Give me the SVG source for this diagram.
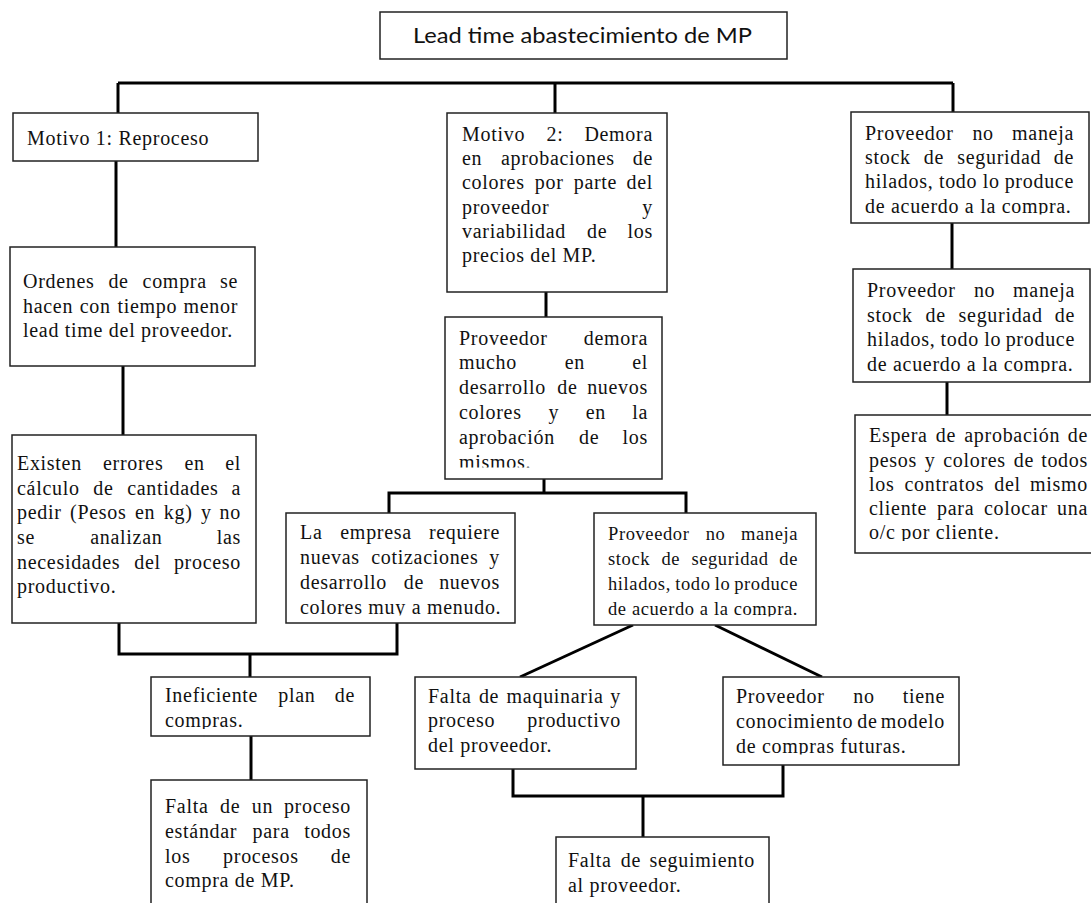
<svg xmlns="http://www.w3.org/2000/svg" width="1091" height="903" viewBox="0 0 1091 903">
  <style>
    .box { fill: #ffffff; stroke: #222222; stroke-width: 1.5; }
    .t { font-family: "Liberation Serif", "Times New Roman", serif; font-size: 20px; letter-spacing: 0.7px; fill: #111111; }
    .s { font-size: 18.5px; letter-spacing: 0.6px; }
    .e { text-anchor: end; }
    .title { font-family: Lato, "Liberation Sans", Arial, sans-serif; font-size: 21px; fill: #111111; }
    .conn { stroke: #000000; stroke-width: 3; fill: none; }
  </style>
  <defs>
    <!-- text areas whose last line overflows the box and is cut off -->
    <clipPath id="clipDemora"><rect x="445" y="317" width="217" height="150.5"/></clipPath>
    <clipPath id="clipEmpresa"><rect x="286" y="513" width="229" height="102.5"/></clipPath>
    <clipPath id="clipStockMid"><rect x="594" y="513" width="222" height="103.5"/></clipPath>
    <clipPath id="clipTiene"><rect x="723" y="677" width="236" height="77.5"/></clipPath>
    <clipPath id="clipRight1"><rect x="851" y="112" width="238" height="102.5"/></clipPath>
    <clipPath id="clipRight2"><rect x="853" y="269" width="237" height="103.5"/></clipPath>
    <clipPath id="clipEspera"><rect x="855" y="415" width="240" height="126"/></clipPath>
    <clipPath id="clipIneficiente"><rect x="151" y="677" width="219" height="52"/></clipPath>
  </defs>

  <rect x="0" y="0" width="1091" height="903" fill="#ffffff"/>

  <!-- connectors -->
  <g id="connectors" class="conn">
    <path d="M118,83 H953"/>
    <path d="M118,83 V113"/>
    <path d="M555,83 V113"/>
    <path d="M953,83 V112"/>
    <path d="M116,161 V247"/>
    <path d="M123,366 V435"/>
    <path d="M119,623 V654 H397 V623"/>
    <path d="M250,654 V677"/>
    <path d="M251,736 V780"/>
    <path d="M546,292 V317"/>
    <path d="M544,479 V493"/>
    <path d="M389,513 V493 H686 V513"/>
    <path d="M633,625 L520,677"/>
    <path d="M715,625 L822,677"/>
    <path d="M513,769 V796 H783 V765"/>
    <path d="M643,796 V837"/>
    <path d="M952,223 V269"/>
    <path d="M947,382 V415"/>
  </g>

  <!-- root -->
  <g id="lead-time">
    <rect class="box" x="380" y="12" width="407" height="47"/>
    <text class="title" x="413" y="43" textLength="339" lengthAdjust="spacingAndGlyphs">Lead time abastecimiento de MP</text>
  </g>

  <!-- branch 1 -->
  <g id="motivo-1">
    <rect class="box" x="13" y="113" width="245" height="48"/>
    <text class="t" x="27" y="145">Motivo 1: Reproceso</text>
  </g>

  <g id="ordenes-compra">
    <rect class="box" x="10" y="247" width="245" height="119"/>
    <text class="t" y="288"><tspan x="23">Ordenes</tspan><tspan x="108.4">de</tspan><tspan x="142.6">compra</tspan><tspan x="238" class="e">se</tspan></text>
    <text class="t" y="313"><tspan x="23">hacen</tspan><tspan x="79.8">con</tspan><tspan x="117.5">tiempo</tspan><tspan x="238" class="e">menor</tspan></text>
    <text class="t" x="23" y="337">lead time del proveedor.</text>
  </g>

  <g id="errores-calculo">
    <rect class="box" x="12" y="435" width="244" height="188"/>
    <text class="t" y="470"><tspan x="17">Existen</tspan><tspan x="103">errores</tspan><tspan x="184.5">en</tspan><tspan x="241" class="e">el</tspan></text>
    <text class="t" y="495"><tspan x="17">cálculo</tspan><tspan x="93.3">de</tspan><tspan x="127.2">cantidades</tspan><tspan x="241" class="e">a</tspan></text>
    <text class="t" y="519"><tspan x="17">pedir</tspan><tspan x="70.1">(Pesos</tspan><tspan x="135">en</tspan><tspan x="163.8">kg)</tspan><tspan x="201.1">y</tspan><tspan x="241" class="e">no</tspan></text>
    <text class="t" y="544"><tspan x="17">se</tspan><tspan x="90.2">analizan</tspan><tspan x="241" class="e">las</tspan></text>
    <text class="t" y="569"><tspan x="17">necesidades</tspan><tspan x="134.2">del</tspan><tspan x="241" class="e">proceso</tspan></text>
    <text class="t" x="17" y="593">productivo.</text>
  </g>

  <g id="plan-compras">
    <rect class="box" x="151" y="677" width="219" height="59"/>
    <g clip-path="url(#clipIneficiente)">
      <text class="t" y="702"><tspan x="165">Ineficiente</tspan><tspan x="278.2">plan</tspan><tspan x="355" class="e">de</tspan></text>
      <text class="t" x="165" y="727">compras.</text>
    </g>
  </g>

  <g id="proceso-estandar">
    <rect class="box" x="151" y="780" width="216" height="130"/>
    <text class="t" y="813"><tspan x="165">Falta</tspan><tspan x="220">de</tspan><tspan x="251.8">un</tspan><tspan x="351" class="e">proceso</tspan></text>
    <text class="t" y="838"><tspan x="165">estándar</tspan><tspan x="252.5">para</tspan><tspan x="351" class="e">todos</tspan></text>
    <text class="t" y="863"><tspan x="165">los</tspan><tspan x="223.1">procesos</tspan><tspan x="351" class="e">de</tspan></text>
    <text class="t" x="165" y="887">compra de MP.</text>
  </g>

  <!-- branch 2 -->
  <g id="motivo-2">
    <rect class="box" x="447" y="113" width="220" height="179"/>
    <text class="t" y="141"><tspan x="462">Motivo</tspan><tspan x="546.6">2:</tspan><tspan x="653" class="e">Demora</tspan></text>
    <text class="t" y="165"><tspan x="462">en</tspan><tspan x="500.9">aprobaciones</tspan><tspan x="653" class="e">de</tspan></text>
    <text class="t" y="189"><tspan x="462">colores</tspan><tspan x="534.8">por</tspan><tspan x="573.7">parte</tspan><tspan x="653" class="e">del</tspan></text>
    <text class="t" y="214"><tspan x="462">proveedor</tspan><tspan x="653" class="e">y</tspan></text>
    <text class="t" y="238"><tspan x="462">variabilidad</tspan><tspan x="587">de</tspan><tspan x="653" class="e">los</tspan></text>
    <text class="t" x="462" y="262">precios del MP.</text>
  </g>

  <g id="demora-colores">
    <rect class="box" x="445" y="317" width="217" height="162"/>
    <g clip-path="url(#clipDemora)">
      <text class="t" y="345"><tspan x="459">Proveedor</tspan><tspan x="648" class="e">demora</tspan></text>
      <text class="t" y="369"><tspan x="459">mucho</tspan><tspan x="564.8">en</tspan><tspan x="648" class="e">el</tspan></text>
      <text class="t" y="394"><tspan x="459">desarrollo</tspan><tspan x="557.2">de</tspan><tspan x="648" class="e">nuevos</tspan></text>
      <text class="t" y="419"><tspan x="459">colores</tspan><tspan x="548.4">y</tspan><tspan x="585.8">en</tspan><tspan x="648" class="e">la</tspan></text>
      <text class="t" y="444"><tspan x="459">aprobación</tspan><tspan x="579">de</tspan><tspan x="648" class="e">los</tspan></text>
      <text class="t" x="459" y="469">mismos.</text>
    </g>
  </g>

  <g id="nuevas-cotizaciones">
    <rect class="box" x="286" y="513" width="229" height="110"/>
    <g clip-path="url(#clipEmpresa)">
      <text class="t" y="539"><tspan x="300">La</tspan><tspan x="340.3">empresa</tspan><tspan x="500" class="e">requiere</tspan></text>
      <text class="t" y="564"><tspan x="300">nuevas</tspan><tspan x="371.2">cotizaciones</tspan><tspan x="500" class="e">y</tspan></text>
      <text class="t" y="589"><tspan x="300">desarrollo</tspan><tspan x="403.7">de</tspan><tspan x="500" class="e">nuevos</tspan></text>
      <text class="t" x="300" y="614">colores muy a menudo.</text>
    </g>
  </g>

  <g id="sin-stock-2">
    <rect class="box" x="594" y="513" width="222" height="112"/>
    <g clip-path="url(#clipStockMid)">
      <text class="t s" y="540"><tspan x="608">Proveedor</tspan><tspan x="705.7">no</tspan><tspan x="798" class="e">maneja</tspan></text>
      <text class="t s" y="565"><tspan x="608">stock</tspan><tspan x="661.4">de</tspan><tspan x="691.4">seguridad</tspan><tspan x="798" class="e">de</tspan></text>
      <text class="t s" y="590"><tspan x="608">hilados,</tspan><tspan x="675.2">todo</tspan><tspan x="714.8">lo</tspan><tspan x="798" class="e">produce</tspan></text>
      <text class="t s" x="608" y="615">de acuerdo a la compra.</text>
    </g>
  </g>

  <g id="maquinaria">
    <rect class="box" x="415" y="677" width="221" height="92"/>
    <text class="t" y="703"><tspan x="428">Falta</tspan><tspan x="478.9">de</tspan><tspan x="506.6">maquinaria</tspan><tspan x="621" class="e">y</tspan></text>
    <text class="t" y="727"><tspan x="428">proceso</tspan><tspan x="621" class="e">productivo</tspan></text>
    <text class="t" x="428" y="752">del proveedor.</text>
  </g>

  <g id="compras-futuras">
    <rect class="box" x="723" y="677" width="236" height="88"/>
    <g clip-path="url(#clipTiene)">
      <text class="t" y="703"><tspan x="736">Proveedor</tspan><tspan x="853.2">no</tspan><tspan x="945" class="e">tiene</tspan></text>
      <text class="t" y="728"><tspan x="736">conocimiento</tspan><tspan x="857.3">de</tspan><tspan x="945" class="e">modelo</tspan></text>
      <text class="t" x="736" y="753">de compras futuras.</text>
    </g>
  </g>

  <g id="seguimiento">
    <rect class="box" x="556" y="837" width="213" height="80"/>
    <text class="t" y="867"><tspan x="568">Falta</tspan><tspan x="620.7">de</tspan><tspan x="755" class="e">seguimiento</tspan></text>
    <text class="t" x="568" y="892">al proveedor.</text>
  </g>

  <!-- branch 3 -->
  <g id="sin-stock-1">
    <rect class="box" x="851" y="112" width="238" height="111"/>
    <g clip-path="url(#clipRight1)">
      <text class="t" y="140"><tspan x="865">Proveedor</tspan><tspan x="972.4">no</tspan><tspan x="1074" class="e">maneja</tspan></text>
      <text class="t" y="164"><tspan x="865">stock</tspan><tspan x="923.8">de</tspan><tspan x="957.2">seguridad</tspan><tspan x="1074" class="e">de</tspan></text>
      <text class="t" y="188"><tspan x="865">hilados,</tspan><tspan x="938.9">todo</tspan><tspan x="982.8">lo</tspan><tspan x="1074" class="e">produce</tspan></text>
      <text class="t" x="865" y="213">de acuerdo a la compra.</text>
    </g>
  </g>

  <g id="sin-stock-3">
    <rect class="box" x="853" y="269" width="237" height="113"/>
    <g clip-path="url(#clipRight2)">
      <text class="t" y="297"><tspan x="867">Proveedor</tspan><tspan x="973.9">no</tspan><tspan x="1075" class="e">maneja</tspan></text>
      <text class="t" y="322"><tspan x="867">stock</tspan><tspan x="925.5">de</tspan><tspan x="958.6">seguridad</tspan><tspan x="1075" class="e">de</tspan></text>
      <text class="t" y="346"><tspan x="867">hilados,</tspan><tspan x="940.6">todo</tspan><tspan x="984.2">lo</tspan><tspan x="1075" class="e">produce</tspan></text>
      <text class="t" x="867" y="371">de acuerdo a la compra.</text>
    </g>
  </g>

  <g id="espera-aprobacion">
    <rect class="box" x="855" y="415" width="245" height="138"/>
    <g clip-path="url(#clipEspera)">
      <text class="t" y="442"><tspan x="869">Espera</tspan><tspan x="935.8">de</tspan><tspan x="964.3">aprobación</tspan><tspan x="1088" class="e">de</tspan></text>
      <text class="t" y="467"><tspan x="869">pesos</tspan><tspan x="924.7">y</tspan><tspan x="943.2">colores</tspan><tspan x="1013.7">de</tspan><tspan x="1088" class="e">todos</tspan></text>
      <text class="t" y="491"><tspan x="869">los</tspan><tspan x="904.5">contratos</tspan><tspan x="994.2">del</tspan><tspan x="1088" class="e">mismo</tspan></text>
      <text class="t" y="515"><tspan x="869">cliente</tspan><tspan x="937">para</tspan><tspan x="984">colocar</tspan><tspan x="1088" class="e">una</tspan></text>
      <text class="t" x="869" y="539">o/c por cliente.</text>
    </g>
  </g>
</svg>
